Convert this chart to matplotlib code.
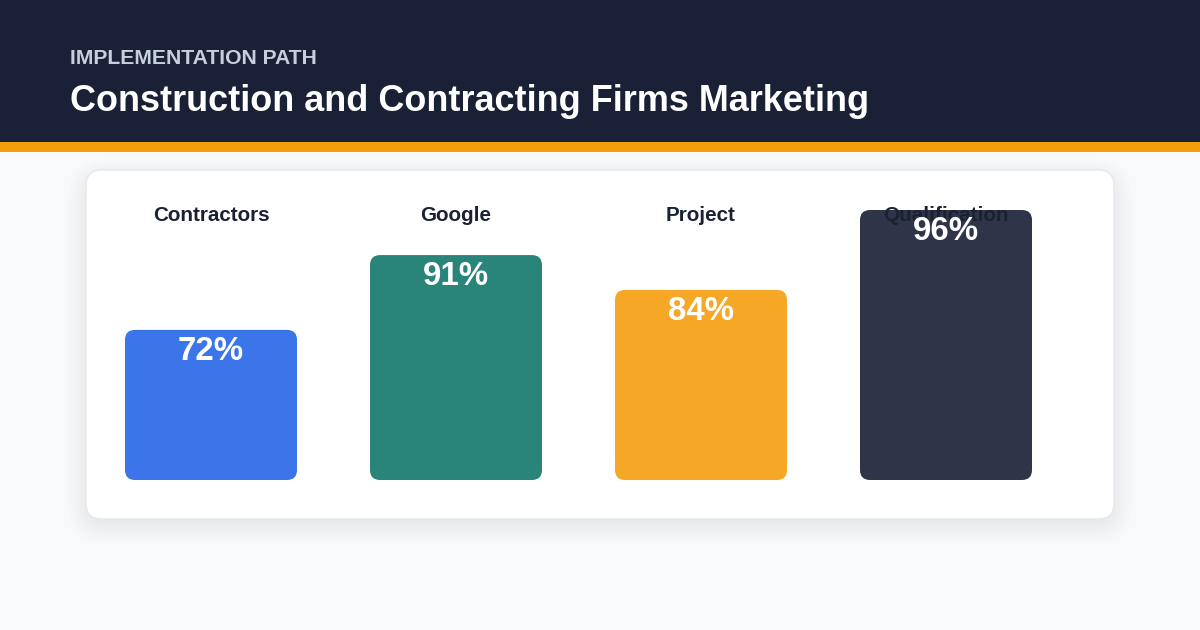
import matplotlib
matplotlib.use("Agg")
import matplotlib.pyplot as plt
from matplotlib.patches import FancyBboxPatch, Rectangle

# ---- data ----
categories = ["Contractors", "Google", "Project", "Qualification"]
bar_lengths = [55.6, 83.3, 70.4, 100.0]   # drawn bar heights, % of the tallest bar
value_labels = ["72%", "91%", "84%", "96%"]
bar_colors = ["#3c74ea", "#29847a", "#f5a725", "#2f3548"]
kicker = "IMPLEMENTATION PATH"
title = "Construction and Contracting Firms Marketing"

FONT = ["Liberation Sans", "DejaVu Sans"]
W, H = 1200, 630
PT = 0.72  # points per pixel at 100 dpi

fig = plt.figure(figsize=(12, 6.3), dpi=100)
fig.patch.set_facecolor("#f8f9fb")

# ---- background decorations (pixel space) ----
bg = fig.add_axes([0, 0, 1, 1])
bg.set_xlim(0, W)
bg.set_ylim(H, 0)
bg.axis("off")

bg.add_patch(Rectangle((0, 0), W, 142, facecolor="#1a2136", edgecolor="none"))
bg.add_patch(Rectangle((0, 142), W, 10, facecolor="#f59e0b", edgecolor="none"))

bg.text(70, 63.5, kicker, fontsize=21.2 * PT, fontweight="bold", color="#c7cfdd",
        family=FONT, va="baseline", ha="left")
bg.text(70, 111, title, fontsize=36 * PT, fontweight="bold", color="white",
        family=FONT, va="baseline", ha="left")

# card shadow
cx, cy, cw, ch = 86, 170, 1028, 349
for k in range(16):
    e = k * 1.5
    bg.add_patch(FancyBboxPatch((cx - e + 4, cy - e + 12), cw + 2 * e - 8, ch + 2 * e - 10,
                                boxstyle=f"round,pad=0,rounding_size={16 + e}",
                                facecolor="#1e2a4a", edgecolor="none", alpha=0.0045))
bg.add_patch(FancyBboxPatch((cx, cy), cw, ch, boxstyle="round,pad=0,rounding_size=16",
                            facecolor="white", edgecolor="#e6e8ee", linewidth=1.0))

# ---- chart ----
px_per_y = 2.7
ax = fig.add_axes([88.5 / W, 150 / H, 980 / W, 310 / H])
ax.set_xlim(-0.5, len(categories) - 0.5)
ax.set_ylim(0, 310 / px_per_y)
ax.axis("off")
ax.patch.set_alpha(0)

x = list(range(len(categories)))
bars = ax.bar(x, bar_lengths, width=172 / 245, color=bar_colors)

px_per_x = 980 / len(categories)
radius_px = 10
asp = px_per_x / px_per_y
for b, col in zip(bars, bar_colors):
    x0, w, h = b.get_x(), b.get_width(), b.get_height()
    b.set_visible(False)
    ax.add_patch(FancyBboxPatch((x0, 0), w, h,
                                boxstyle=f"round,pad=0,rounding_size={radius_px / px_per_x}",
                                mutation_aspect=asp, facecolor=col, edgecolor="none",
                                zorder=2))

for i, (cat, h, lbl) in enumerate(zip(categories, bar_lengths, value_labels)):
    ax.annotate(cat, xy=(i, 1), xycoords=("data", "axes fraction"),
                xytext=(0, -51 * PT), textcoords="offset points",
                ha="center", va="baseline", fontsize=20.6 * PT, fontweight="bold",
                color="#1a2133", family=FONT, zorder=3)
    ax.annotate(lbl, xy=(i, h), xycoords="data",
                xytext=(0, -30 * PT), textcoords="offset points",
                ha="center", va="baseline", fontsize=33 * PT, fontweight="bold",
                color="white", family=FONT, zorder=4)

fig.savefig("out.png", dpi=100, facecolor=fig.get_facecolor())
